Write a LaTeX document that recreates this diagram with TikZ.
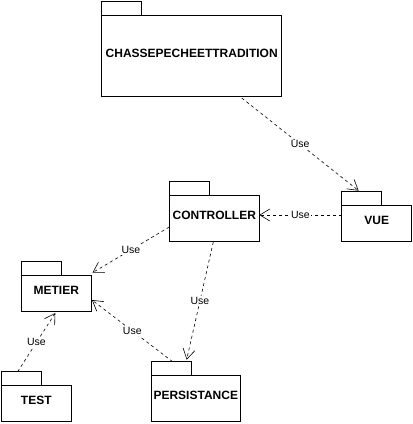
\documentclass[tikz,border=0pt]{standalone}
\usepackage{fontspec}
\setmainfont{Liberation Sans}
\usetikzlibrary{arrows.meta, calc}

\tikzset{
  pkg/.style={draw, line width=0.8pt, rectangle, outer sep=0pt, inner sep=0pt,
    text depth=5pt, font=\fontsize{12}{14}\selectfont\bfseries},
  pkgtab/.style={draw, line width=0.8pt, rectangle, outer sep=0pt, inner sep=0pt,
    minimum width=40pt, minimum height=13.3pt, anchor=south west},
  use/.style={draw, line width=0.6pt, dash pattern=on 3pt off 3pt,
    -{Straight Barb[length=10pt, width=12pt, line width=0.6pt]}},
  uselbl/.style={fill=white, inner sep=1pt, font=\fontsize{10.5}{12}\selectfont}
}

\begin{document}
\begin{tikzpicture}[x=1pt, y=-1pt]
\useasboundingbox (0,0) rectangle (413,424);

%------------------------------------------------
% Packages
%------------------------------------------------
\node[pkg, minimum width=180pt, minimum height=81pt] (chasse) at (191.7,55.5) {CHASSEPECHEETTRADITION};
\node[pkg, minimum width=90pt, minimum height=46pt] (controller) at (214.3,218) {CONTROLLER};
\node[pkg, minimum width=70pt, minimum height=36pt] (vue) at (376.7,223) {VUE};
\node[pkg, minimum width=69.3pt, minimum height=36pt] (metier) at (56.3,293) {METIER};
\node[pkg, minimum width=69.3pt, minimum height=36pt] (test) at (36.3,403) {TEST};
\node[pkg, minimum width=88.3pt, minimum height=46pt] (persistance) at (195.8,398) {PERSISTANCE};

% Onglets
\foreach \p in {chasse, controller, vue, metier, test, persistance}
  \node[pkgtab] (\p-tab) at (\p.north west) {};

%------------------------------------------------
% Dependances "Use"
%------------------------------------------------
\draw[use] ($(chasse.south)+(50,2)$) -- node[uselbl] (u1) {Use} ($(vue-tab.north)+(-3,-1)$);
\draw[use] ($(vue.west)+(0,-8)$) -- node[uselbl] (u2) {Use} ($(controller.east)+(0,-3)$);
\draw[use] ($(controller.west)+(0,9)$) -- node[uselbl] (u3) {Use} ($(metier.north east)+(1.5,-2.3)$);
\draw[use] ($(controller.south)+(-1,1)$) -- node[uselbl] (u4) {Use} ($(persistance-tab.north)+(15,-2)$);
\draw[use] ($(persistance-tab.north)+(1,0)$) -- node[uselbl] (u5) {Use} ($(metier.east)+(1,7)$);
\draw[use] ($(test-tab.north)+(-4,0)$) -- node[uselbl] (u6) {Use} ($(metier.south)+(-1,2)$);

\end{tikzpicture}
\end{document}
